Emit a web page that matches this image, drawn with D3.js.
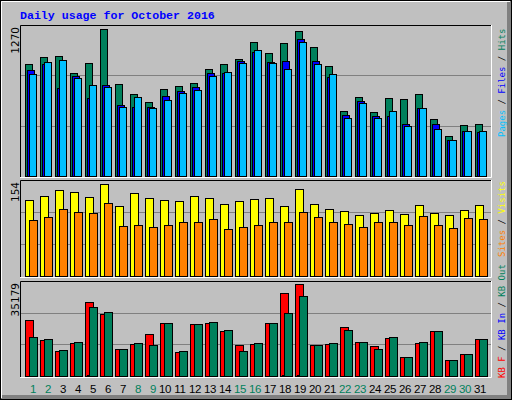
<!DOCTYPE html>
<html><head><meta charset="utf-8">
<script src="https://cdn.jsdelivr.net/npm/d3@7"></script>
<style>body{margin:0;background:#fff}svg{display:block}</style>
</head><body>
<script>
const days = d3.range(1, 32);
const weekend = [1,2,8,9,15,16,22,23,29,30];
const hits  = [965,1026,1034,887,974,1267,792,706,637,749,775,801,922,965,1008,1155,1060,1147,1250,1112,948,559,680,550,671,663,706,490,343,438,447];
const files = [913,968,758,861,671,784,611,596,594,689,732,766,887,887,991,1069,982,991,1181,991,853,524,645,516,516,447,585,447,308,386,378];
const pages = [879,985,1000,844,784,766,594,680,585,654,715,740,861,896,974,1086,974,922,1155,965,879,499,628,499,559,429,585,403,308,386,386];
const visits = [127,134,144,141,132,154,117,139,131,127,126,134,131,120,126,129,131,117,146,120,112,109,102,105,110,104,119,105,102,110,119];
const sites  = [94,99,112,107,105,122,84,85,82,85,90,90,95,79,82,85,90,90,107,99,90,87,82,90,90,85,100,85,80,97,95];
const kbF   = [21323,13626,9392,12471,28252,23633,10161,12086,15935,20169,9007,19784,20169,17090,11701,12086,20169,31716,35179,11701,12086,18629,12856,11316,14395,7082,12471,17090,5927,8237,14010];
const kbIn  = [150,120,100,110,200,180,90,110,130,160,90,150,160,140,100,110,160,220,240,100,110,150,110,100,120,70,110,140,60,80,120];
const kbOut = [14780,14010,9776,12856,26327,24403,10161,12471,11701,20169,9392,19784,20554,17474,9392,12471,20169,24018,30561,11701,12471,17474,12856,10161,14780,7082,12856,17090,5927,8237,14010];
const maxLabels = ["1270","154","35179"];

const W=512,H=400;
const svg=d3.select("body").append("svg").attr("width",W).attr("height",H);
svg.append("rect").attr("width",W).attr("height",H).attr("fill","#C0C0C0");
// bevel
svg.append("rect").attr("x",507).attr("y",0).attr("width",5).attr("height",H).attr("fill","#808080");
svg.append("rect").attr("x",0).attr("y",395).attr("width",W).attr("height",5).attr("fill","#808080");
svg.append("path").attr("d","M1.5,398V1.5H510").attr("stroke","#fff").attr("fill","none");
svg.append("rect").attr("x",0.5).attr("y",0.5).attr("width",W-1).attr("height",H-1).attr("fill","none").attr("stroke","#000");

svg.append("text").attr("x",20).attr("y",19).text("Daily usage for October 2016")
  .attr("font-family","Liberation Mono, DejaVu Sans Mono, monospace").attr("font-weight","bold")
  .attr("font-size",11.6).attr("fill","#0000FF");

const x = d3.scaleLinear().domain([1,31]).range([25,475]);
const L=20,R=491;
const panels=[
  {top:25,bot:176,yMax:29,max:1270,series:[[hits,"#00805C",0],[files,"#0000FF",2],[pages,"#00C0FF",4]],bw:7},
  {top:180,bot:276,yMax:184,max:154,series:[[visits,"#FFFF00",0],[sites,"#FF8000",4]],bw:8},
  {top:281,bot:376,yMax:284,max:35179,series:[[kbF,"#FF0000",0],[kbIn,"#0000FF",2],[kbOut,"#00805C",4]],bw:8}
];
panels.forEach((p,pi)=>{
  const y=d3.scaleLinear().domain([0,p.max]).range([p.bot,p.yMax]);
  const g=svg.append("g");
  const h=p.bot-p.top;
  [1,2].forEach(k=>{
    const gy=Math.round(p.bot-k*h/3)+0.5;
    g.append("line").attr("x1",L).attr("x2",R).attr("y1",gy).attr("y2",gy).attr("stroke","#808080");
  });
  p.series.forEach(([vals,col,off])=>{
    g.selectAll(null).data(vals).enter().append("rect")
      .attr("x",(d,i)=>Math.round(x(days[i]))+off+0.5)
      .attr("y",d=>Math.round(y(d))+0.5)
      .attr("width",p.bw)
      .attr("height",d=>Math.max(0,Math.round(p.bot)-Math.round(y(d))))
      .attr("fill",col).attr("stroke","#000");
  });
  // frame
  g.append("path").attr("d",`M${L+0.5},${p.bot+1.5}V${p.top+0.5}H${R}`).attr("stroke","#000").attr("fill","none");
  g.append("path").attr("d",`M${L},${p.bot+1.5}H${R+0.5}V${p.top}`).attr("stroke","#fff").attr("fill","none");
  svg.append("text").attr("transform",`translate(19,${p.top+2}) rotate(-90)`).attr("text-anchor","end")
    .attr("font-family","DejaVu Sans, sans-serif").attr("font-size",10.5).attr("fill","#000").text(maxLabels[pi]);
});

// right labels
const rl=[
  {y:137,parts:[["Pages","#00C0FF"],[" / ","#000"],["Files","#0000FF"],[" / ","#000"],["Hits","#00805C"]]},
  {y:257,parts:[["Sites","#FF8000"],[" / ","#000"],["Visits","#FFFF00"]]},
  {y:378,parts:[["KB F","#FF0000"],[" / ","#000"],["KB In","#0000FF"],[" / ","#000"],["KB Out","#00805C"]]}
];
rl.forEach(r=>{
  const t=svg.append("text").attr("transform",`translate(505,${r.y}) rotate(-90)`)
    .attr("font-family","DejaVu Sans Mono, monospace").attr("font-size",9).attr("xml:space","preserve");
  r.parts.forEach(([s,c])=>t.append("tspan").attr("fill",c).text(s));
});

svg.selectAll(".dl").data(days).enter().append("text")
  .attr("x",d=>x(d)+(d<10?8:5)).attr("y",393).attr("text-anchor","middle")
  .attr("font-family","Liberation Sans, Arial, sans-serif").attr("font-size",11.5).attr("letter-spacing",-0.3)
  .attr("fill",d=>weekend.includes(d)?"#00805C":"#000").text(d=>d);
</script>
</body></html>
